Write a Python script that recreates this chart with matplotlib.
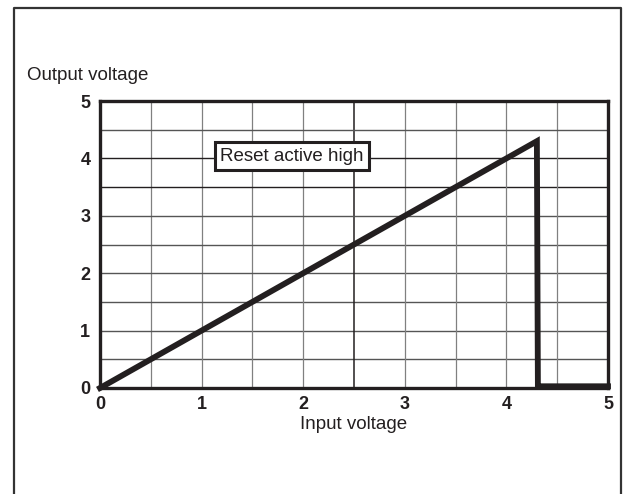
import numpy as np
from matplotlib import pyplot as plt
from matplotlib.lines import Line2D

# transfer curve
x_in = [0.0, 4.3, 4.31, 4.33, 5.0]
y_out = [0.0, 4.3, 0.03, 0.03, 0.03]

x_ticks = [0, 1, 2, 3, 4, 5]
y_ticks = [0, 1, 2, 3, 4, 5]
grid_steps = [0.5, 1.0, 1.5, 2.0, 2.5, 3.0, 3.5, 4.0, 4.5]

ink = '#231f20'
plt.rcParams['font.family'] = ['Liberation Sans', 'DejaVu Sans']

fig = plt.figure()
fig.set_dpi(100)
fig.set_size_inches(6.25, 4.94)

# outer frame, open at the bottom
fl, fr, ft = 14.5 / 625, 620.5 / 625, 1 - 8.5 / 494
fig.add_artist(Line2D([fl, fl, fr, fr], [0, ft, ft, 0], transform=fig.transFigure,
                      color='#333333', lw=1.6))

ax = fig.add_axes([100 / 625, 1 - 388 / 494, 508 / 625, 287 / 494])
ax.set_xlim(0, 5)
ax.set_ylim(0, 5)

# grid, drawn by hand so some lines can be darker like the scan
for g in grid_steps:
    vcol = ink if g == 2.5 else '#808080'
    ax.axvline(g, color=vcol, lw=1.1 if g == 2.5 else 0.9, zorder=1)
    hcol = ink if g in (3.5, 4.0) else '#555555'
    ax.axhline(g, color=hcol, lw=1.0, zorder=1)

ax.plot(x_in, y_out, color=ink, lw=4.2, solid_joinstyle='miter', clip_on=False, zorder=3)

for s in ax.spines.values():
    s.set_linewidth(2.4)
    s.set_color(ink)
    s.set_zorder(4)

ax.set_xticks(x_ticks)
ax.set_yticks(y_ticks)
ax.tick_params(length=0, labelsize=13, colors=ink)
ax.tick_params(axis='x', pad=6)
ax.tick_params(axis='y', pad=7)
for lab in ax.get_xticklabels() + ax.get_yticklabels():
    lab.set_fontweight('bold')

ax.set_xlabel('Input voltage', fontsize=13.5, color=ink, labelpad=2)
fig.text(27 / 625, 1 - 75 / 494, 'Output voltage', fontsize=13.5, color=ink,
         ha='left', va='center')

ax.text(1.89, 4.04, 'Reset active high', fontsize=13.5, color=ink, ha='center', va='center',
        zorder=5, bbox=dict(boxstyle='square,pad=0.3', fc='white', ec=ink, lw=2.2))

plt.savefig('out.png', dpi=100, facecolor='white')
